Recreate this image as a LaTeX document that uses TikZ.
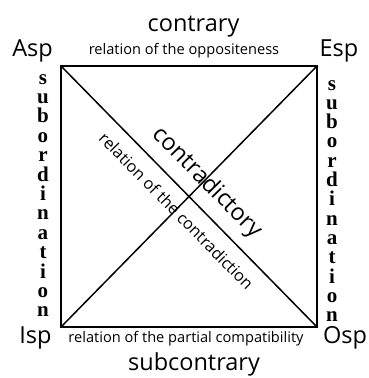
\documentclass[tikz,border=0pt]{standalone}
\usepackage{fontspec}
\setmainfont{Open Sans}
\newfontfamily\subfont{Liberation Serif}
\begin{document}
\begin{tikzpicture}[x=1pt,y=-1pt,
  edge/.style={line width=1.5pt,line cap=rect},
  biglabel/.style={font=\fontsize{23.5}{23.5}\selectfont,inner sep=0pt,anchor=base},
  smalllabel/.style={font=\fontsize{14.6}{14.6}\selectfont,inner sep=0pt,anchor=base},
  diaglabel/.style={font=\fontsize{16.3}{16.3}\selectfont,inner sep=0pt},
  letter/.style={font=\subfont\bfseries\fontsize{21}{21}\selectfont,inner sep=0pt,anchor=base}]
\useasboundingbox (0,0) rectangle (368,378);
\coordinate (A) at (61,66);
\coordinate (E) at (317,66);
\coordinate (I) at (61,327);
\coordinate (O) at (317,327);
\draw[edge] (A) -- (E) -- (O) -- (I) -- cycle;
\draw[edge] (A) -- (O);
\draw[edge] (I) -- (E);
\node[biglabel] (asp) at (32.5,56) {Asp};
\node[biglabel] (esp) at (339,56) {Esp};
\node[biglabel] (isp) at (35.5,343) {Isp};
\node[biglabel] (osp) at (345,343) {Osp};
\node[biglabel] (contrary) at (193.5,31) {contrary};
\node[smalllabel] (oppos) at (184,54) {relation of the oppositeness};
\node[smalllabel] (partial) at (186,342) {relation of the partial compatibility};
\node[biglabel] (subcontrary) at (194,370) {subcontrary};
\node[biglabel,anchor=center,rotate=-45.5] (contradictory) at (207,183) {contradictory};
\node[diaglabel,rotate=-45.5] (contradiction) at (176.5,211) {relation of the contradiction};
\foreach \ch [count=\i from 0] in {s,u,b,o,r,d,i,n,a,t,i,o,n} {
  \node[letter] (L\i) at (43,84+19.4*\i) {\ch};
  \node[letter] (R\i) at (332,90+19.3*\i) {\ch};
}
\end{tikzpicture}
\end{document}
